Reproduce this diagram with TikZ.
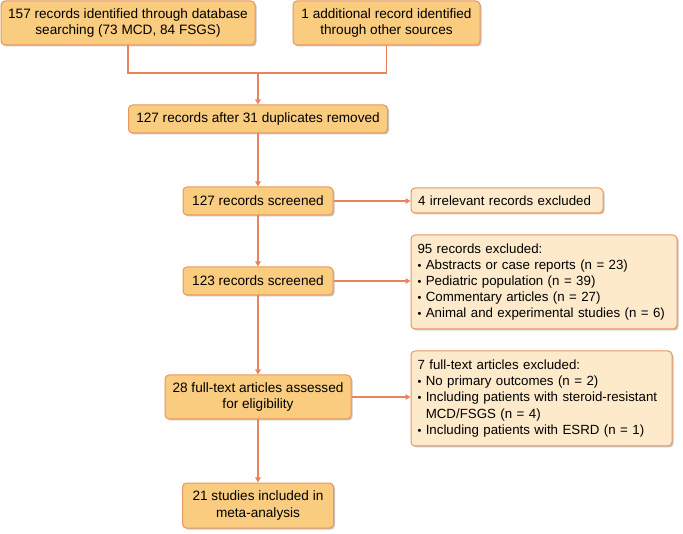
\documentclass[tikz,border=0pt]{standalone}
\usepackage{fontspec}
\setmainfont{Liberation Sans}
\usetikzlibrary{shadows,arrows.meta}
\definecolor{mainfill}{HTML}{F9CC80}
\definecolor{sidefill}{HTML}{FDEACB}
\definecolor{edgecol}{HTML}{E9955E}
\definecolor{linecol}{HTML}{E9835D}
\newcommand{\bul}{{\fontsize{11}{11}\selectfont\textbullet}\ }
\tikzset{
  base/.style={draw=edgecol, line width=1pt, rounded corners=4pt, inner sep=0pt, font=\fontsize{13.6}{16.5}\selectfont,
    drop shadow={shadow xshift=1.5pt, shadow yshift=-1.5pt, opacity=0.22, fill=black}},
  mainbox/.style={base, fill=mainfill, align=center},
  sidebox/.style={base, fill=sidefill, font=\fontsize{13.3}{16.2}\selectfont},
  conn/.style={draw=linecol, line width=1.5pt},
  arr/.style={conn, -{Triangle[length=5pt,width=5.5pt]}}
}
\begin{document}
\begin{tikzpicture}[x=1pt,y=-1pt]
\useasboundingbox (0,0) rectangle (683,534);
\node[mainbox, minimum width=254pt, minimum height=44pt] (a) at (128,23) {157 records identified through database\\searching (73 MCD, 84 FSGS)};
\node[mainbox, minimum width=187pt, minimum height=44pt] (b) at (386.5,23) {1 additional record identified\\through other sources};
\node[mainbox, minimum width=259pt, minimum height=28pt] (c) at (258,119) {127 records after 31 duplicates removed};
\node[mainbox, minimum width=150pt, minimum height=28pt] (d) at (258,201) {127 records screened};
\node[sidebox, minimum width=192pt, minimum height=25pt, text width=178pt, align=left] (e) at (507,200.5) {4 irrelevant records excluded};
\node[sidebox, minimum width=266pt, minimum height=94pt, text width=253pt, align=left] (g) at (544,282) {95 records excluded:\\
\bul Abstracts or case reports (n = 23)\\
\bul Pediatric population (n = 39)\\
\bul Commentary articles (n = 27)\\
\bul Animal and experimental studies (n = 6)};
\node[mainbox, minimum width=150pt, minimum height=28pt] (f) at (258,281) {123 records screened};
\node[mainbox, minimum width=186pt, minimum height=44pt] (h) at (258,397) {28 full-text articles assessed\\for eligibility};
\node[sidebox, minimum width=261pt, minimum height=95pt, text width=248pt, align=left] (i) at (541.5,398.5) {7 full-text articles excluded:\\
\bul No primary outcomes (n = 2)\\
\bul Including patients with steroid-resistant\\
\phantom{\bul}MCD/FSGS (n = 4)\\
\bul Including patients with ESRD (n = 1)};
\node[mainbox, minimum width=151pt, minimum height=45pt] (j) at (258,505.5) {21 studies included in\\meta-analysis};
\coordinate (m) at (258,73);
\draw[conn] (a.south) |- (m) -| (b.south);
\draw[arr] (m) -- (c.north);
\draw[arr] (c.south) -- (d.north);
\draw[arr] (d) -- (f);
\draw[arr] (f) -- (h);
\draw[arr] (h) -- (j);
\draw[arr] (d.east) -- (d.east -| e.west);
\draw[arr] (f.east) -- (f.east -| g.west);
\draw[arr] (h.east) -- (h.east -| i.west);
\end{tikzpicture}
\end{document}
